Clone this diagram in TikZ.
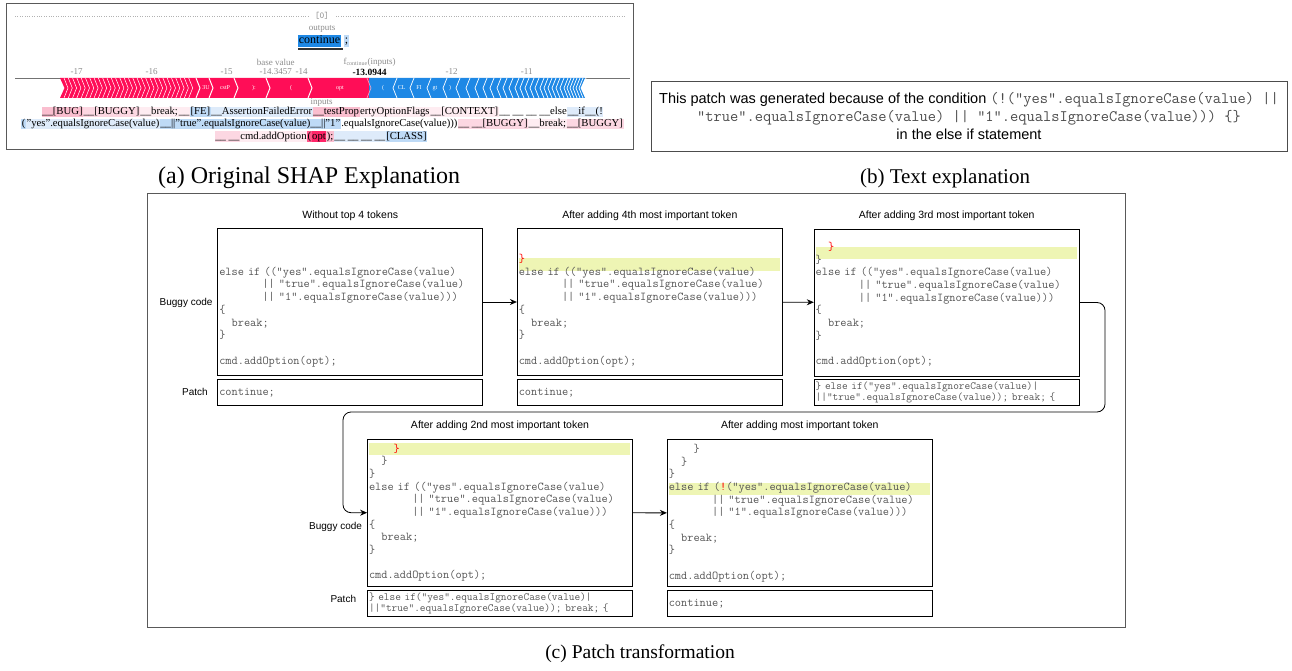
\documentclass[tikz,border=0pt]{standalone}
\usepackage{fontspec}
\setmainfont{Liberation Serif}
\setsansfont{Liberation Sans}
\usetikzlibrary{arrows.meta,backgrounds,calc,positioning}

\definecolor{shapred}{RGB}{255,13,87}
\definecolor{shapblue}{RGB}{30,136,229}
\definecolor{pinkA}{RGB}{250,190,207}
\definecolor{pinkB}{RGB}{252,215,226}
\definecolor{pinkC}{RGB}{254,236,241}
\definecolor{blueA}{RGB}{190,218,246}
\definecolor{blueB}{RGB}{222,235,250}
\definecolor{hlyellow}{RGB}{238,245,180}
\definecolor{codegray}{RGB}{85,85,85}

\newcommand{\shaptok}[2]{{\setlength{\fboxsep}{0.5pt}\colorbox{#1}{\vphantom{(Ag}#2}}}
\newcommand{\codefont}{\ttfamily\fontsize{12}{12.67}\selectfont\frenchspacing}
\newcommand{\patchfont}{\ttfamily\fontsize{11}{11}\selectfont\frenchspacing}
\newcommand{\expcode}[1]{{\ttfamily\fontsize{16}{18}\selectfont\frenchspacing\color{black!70}#1}}
\newcommand{\cind}[1]{\hspace*{#1\fontcharwd\font`x}}
\newcommand{\hot}[1]{\textcolor{red}{#1}}

\tikzset{
  panel/.style={draw=black!65, line width=0.9pt},
  codebox/.style={draw, line width=0.8pt, minimum width=265, minimum height=147,
    text width=262, inner xsep=1.5, inner ysep=0, align=left, font=\codefont, text=codegray},
  patchbox/.style={draw, line width=0.8pt, minimum width=265, minimum height=26.5,
    text width=262, inner xsep=1.5, inner ysep=0, align=left, text=codegray},
  boxtitle/.style={font=\sffamily\fontsize{10.5}{12}\selectfont},
  sidelbl/.style={font=\sffamily\fontsize{10}{12}\selectfont},
  caption/.style={font=\fontsize{21}{24}\selectfont},
  shapgray/.style={font=\fontsize{9}{10}\selectfont, text=black!45, inner sep=0.5},
  barlbl/.style={font=\fontsize{6}{6}\selectfont, text=white, inner sep=0},
  inputline/.style={font=\fontsize{10.7}{12}\selectfont, inner sep=0},
  flow/.style={-{Stealth[length=7pt,width=6pt]}, line width=0.8pt},
}

\begin{document}
\begin{tikzpicture}[x=1pt,y=-1pt]
\useasboundingbox (0,0) rectangle (1292,671);

\draw[panel] (6,3) rectangle (633,149);
\draw[black!30, dotted] (15,16) -- (308,16) (336,16) -- (625,16);
\node[font=\ttfamily\fontsize{9}{9}\selectfont, text=black!45] (outidx) at (322,16) {[0]};
\node[shapgray] (outlbl) at (322,29) {outputs};
\node[fill=shapblue, text height=8, text depth=2.5, inner sep=1.2, font=\fontsize{12}{12}\selectfont] (outtok) at (319.5,41) {continue};
\fill[black!80] ($(outtok.south west)+(1,0)$) rectangle ($(outtok.south east)+(1,2)$);
\node[fill=blueA, text height=8, text depth=2.5, inner sep=1.2, right=2pt of outtok, font=\fontsize{12}{12}\selectfont] (outsemi) {;};

\draw[black!55, line width=0.6] (15,78.5) -- (630,78.5);
\foreach \v in {-17,-16,-15,-14,-12,-11}
  \node[shapgray] at ({76.7+(\v+17)*75},72) {\v};
\foreach \v in {-17,-16,-15,-14.3457,-14,-13.0944,-12,-11}
  \draw[black!45] ({76.7+(\v+17)*75},78.5) -- ++(0,2.5);
\node[shapgray] (basev) at (275.8,72) {-14.3457};
\node[shapgray] (baselbl) at (275.8,62) {base value};
\node[shapgray] (flbl) at (369.6,62) {f\textsubscript{continue}(inputs)};
\node[font=\bfseries\fontsize{9.5}{10}\selectfont, inner sep=0.5] (fval) at (369.6,72) {-13.0944};

\fill[shapred] (60,78) -- (369,78) -- (369,98) -- (60,98) -- (64.5,88) -- cycle;
\foreach \p in {68,72.3,...,196}
  \draw[white, line width=0.5] (\p-4,78) -- (\p,88) -- (\p-4,98);
\foreach \p in {200,213,238,270,312}
  \draw[white, line width=1] (\p-4,78) -- (\p,88) -- (\p-4,98);
\fill[shapblue] (369,78) -- (585,78) -- (580.5,88) -- (585,98) -- (369,98) -- cycle;
\foreach \p in {393,410,427,443,456,466,475,483,490,497,503,509,515,520,525,530,535,540,544,548,552,556,560,564,567,570,573,576,579,582}
  \draw[white, line width=0.7] (\p+4,78) -- (\p,88) -- (\p+4,98);
\draw[shapred!35, line width=0.6] (367,78) -- (371,88) -- (367,98);
\node[barlbl] (r1) at (206,88) {3U};
\node[barlbl] (r2) at (225,88) {cstP};
\node[barlbl] (r3) at (254,88) {):};
\node[barlbl] (r4) at (291,88) {(};
\node[barlbl] (r5) at (340,88) {opt};
\node[barlbl] (u1) at (383,88) {(};
\node[barlbl] (u2) at (401.7,88) {CL};
\node[barlbl] (u3) at (419,88) {FI};
\node[barlbl] (u4) at (435,88) {gt};
\node[barlbl] (u5) at (450,88) {)};

\node[shapgray] (inlbl) at (321.7,102.7) {inputs};
\node[inputline] (in1) at (322.5,112) {\shaptok{pinkA}{\_\_[BUG]}\shaptok{pinkB}{\_\_[BUGGY]}\shaptok{pinkC}{\_\_break;}\shaptok{pinkC}{\_\_}\shaptok{blueA}{[FE]}\shaptok{blueB}{\_\_AssertionFailedError}\shaptok{pinkA}{\_\_testProp}\shaptok{pinkC}{ertyOptionFlags}\shaptok{pinkC}{\_\_[CONTEXT]}\shaptok{white}{\_\_\ \_\_\ \_\_\ \_\_else}\shaptok{blueB}{\_\_if\_\_(!}};
\node[inputline] (in2) at (322.5,124) {\shaptok{blueA}{(}\shaptok{blueB}{"yes".equalsIgnoreCase(value)}\shaptok{blueA}{\_\_||"true".equalsIgnoreCase(value)\_\_||"1"}\shaptok{white}{.equalsIgnoreCase(value)))}\shaptok{pinkB}{\_\_\ \_\_[BUGGY]}\shaptok{pinkC}{\_\_break;}\shaptok{pinkB}{\_\_[BUGGY]}};
\node[inputline] (in3) at (321,136.5) {\shaptok{pinkB}{\_\_\ \_\_}\shaptok{pinkC}{cmd.addOption}\shaptok{shapred!70}{(}\shaptok{shapred!90}{opt}\shaptok{pinkA}{);}\shaptok{blueB}{\_\_\ \_\_\ \_\_\ \_\_}\shaptok{blueA}{[CLASS]}};

\node[caption, font=\fontsize{24}{28}\selectfont] (capa) at (309.2,178) {(a) Original SHAP Explanation};

\node[draw=black!70, line width=0.8, minimum width=636, minimum height=70, align=center,
  font=\sffamily\fontsize{14.5}{18}\selectfont] (expl) at (969,116)
  {This patch was generated because of the condition \expcode{(!("yes".equalsIgnoreCase(value) ||}\\
   \expcode{"true".equalsIgnoreCase(value) || "1".equalsIgnoreCase(value))) \{\}}\\
   in the else if statement};
\node[caption] (capb) at (945,178) {(b) Text explanation};

\draw[panel] (147,193) rectangle (1125,627);
\node[caption, font=\fontsize{19.5}{24}\selectfont] (capc) at (640,654) {(c) Patch transformation};

\node[boxtitle] (t1) at (350.3,215.7) {Without top 4 tokens};
\node[boxtitle] (t2) at (649.8,215.7) {After adding 4th most important token};
\node[boxtitle] (t3) at (946.7,215.7) {After adding 3rd most important token};
\node[boxtitle] (t4) at (500,426) {After adding 2nd most important token};
\node[boxtitle] (t5) at (799.8,426) {After adding most important token};

\node[codebox] (b1) at (350.3,302) {\mbox{}\\ \mbox{}\\ \mbox{}\\
else if (("yes".equalsIgnoreCase(value)\\
\cind{7}|| "true".equalsIgnoreCase(value)\\
\cind{7}|| "1".equalsIgnoreCase(value)))\\
\{\\
\cind{2}break;\\
\}\\
\mbox{}\\
cmd.addOption(opt);};
\node[codebox] (b2) at (649.8,302) {\mbox{}\\ \mbox{}\\
\hot{\}}\\
else if (("yes".equalsIgnoreCase(value)\\
\cind{7}|| "true".equalsIgnoreCase(value)\\
\cind{7}|| "1".equalsIgnoreCase(value)))\\
\{\\
\cind{2}break;\\
\}\\
\mbox{}\\
cmd.addOption(opt);};
\node[codebox] (b3) at (946.7,302.5) {\mbox{}\\
\cind{2}\hot{\}}\\
\}\\
else if (("yes".equalsIgnoreCase(value)\\
\cind{7}|| "true".equalsIgnoreCase(value)\\
\cind{7}|| "1".equalsIgnoreCase(value)))\\
\{\\
\cind{2}break;\\
\}\\
\mbox{}\\
cmd.addOption(opt);};
\node[codebox] (b4) at (500,512.7) {\cind{4}\hot{\}}\\
\cind{2}\}\\
\}\\
else if (("yes".equalsIgnoreCase(value)\\
\cind{7}|| "true".equalsIgnoreCase(value)\\
\cind{7}|| "1".equalsIgnoreCase(value)))\\
\{\\
\cind{2}break;\\
\}\\
\mbox{}\\
cmd.addOption(opt);};
\node[codebox] (b5) at (799.8,513) {\cind{4}\}\\
\cind{2}\}\\
\}\\
else if (\hot{!}("yes".equalsIgnoreCase(value)\\
\cind{7}|| "true".equalsIgnoreCase(value)\\
\cind{7}|| "1".equalsIgnoreCase(value)))\\
\{\\
\cind{2}break;\\
\}\\
\mbox{}\\
cmd.addOption(opt);};

\node[patchbox, font=\codefont] (p1) at (350.3,392.5) {continue;};
\node[patchbox, font=\codefont] (p2) at (649.8,392.6) {continue;};
\node[patchbox, font=\patchfont] (p3) at (946.7,392.5) {\} else if("yes".equalsIgnoreCase(value)|\\||"true".equalsIgnoreCase(value)); break; \{};
\node[patchbox, font=\patchfont] (p4) at (500,603.3) {\} else if("yes".equalsIgnoreCase(value)|\\||"true".equalsIgnoreCase(value)); break; \{};
\node[patchbox, font=\codefont] (p5) at (799.8,603.3) {continue;};

\begin{scope}[on background layer]
  \fill[hlyellow] ($(b2.north west)+(2,29.7)$) rectangle ($(b2.north east)+(-3,42.4)$);
  \fill[hlyellow] ($(b3.north west)+(2,18.4)$) rectangle ($(b3.north east)+(-3,30)$);
  \fill[hlyellow] ($(b4.north west)+(2,4)$) rectangle ($(b4.north east)+(-3,16.4)$);
  \fill[hlyellow] ($(b5.north west)+(2,43.4)$) rectangle ($(b5.north east)+(-3,55.7)$);
\end{scope}

\node[sidelbl, anchor=east] (bug1) at (216,303.3) {Buggy code};
\node[sidelbl] (pat1) at (195,392.3) {Patch};
\node[sidelbl, anchor=east] (bug4) at (365.5,527.3) {Buggy code};
\node[sidelbl] (pat4) at (343.3,599.3) {Patch};

\coordinate (turnR) at (1105,412);
\coordinate (turnL) at (343,412);
\draw[flow] (b1) -- (b2);
\draw[flow] (b2) -- (b3);
\draw[flow, rounded corners=8] (b3.east) -| (turnR) -- (turnL) |- (b4.west);
\draw[flow] (b4) -- (b5);
\end{tikzpicture}
\end{document}
